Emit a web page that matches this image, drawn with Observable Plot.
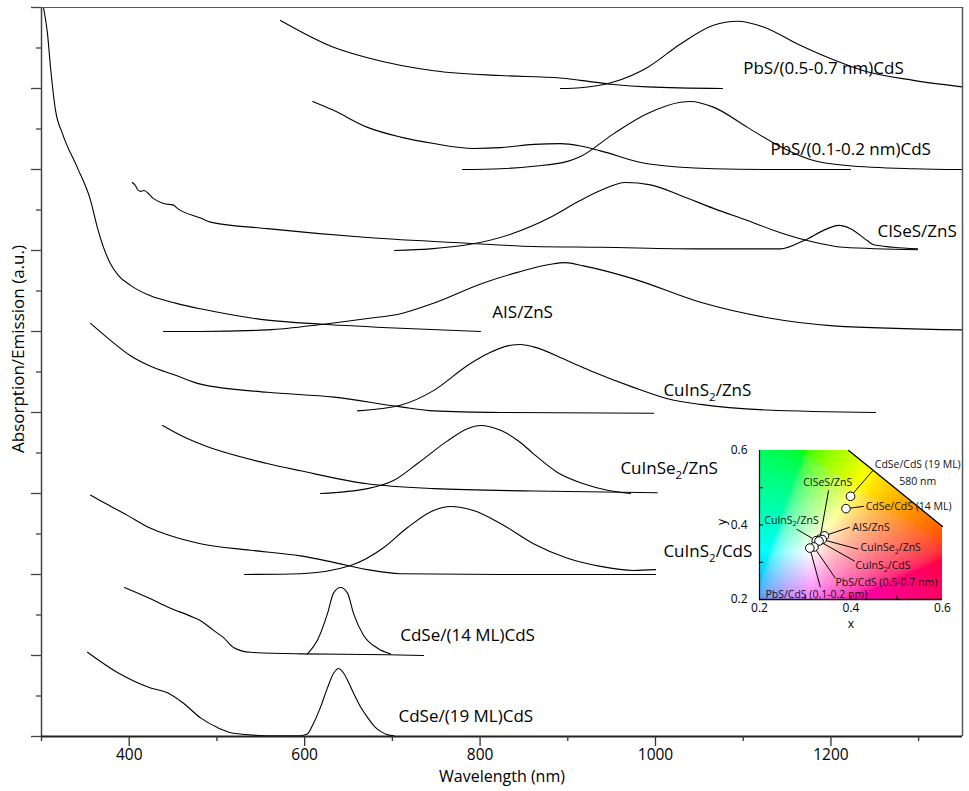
<!DOCTYPE html>
<html>
<head>
<meta charset="utf-8">
<script src="https://cdn.jsdelivr.net/npm/d3@7"></script>
<script src="https://cdn.jsdelivr.net/npm/@observablehq/plot@0.6"></script>
<style>
  body { margin: 0; background: #fff; }
  #wrap { position: relative; width: 969px; height: 791px; font-family: "Open Sans", sans-serif; }
  #inset { position: absolute; left: 700px; top: 430px; }
</style>
</head>
<body>
<div id="wrap"><div id="main"></div><div id="inset"></div></div>
<script>
// ---------- Spectra: [wavelength (nm), offset intensity (a.u.)] ----------
const abs19 = [[352.4,1.04],[386.6,0.79],[424.3,0.60],[443.7,0.54],[461.9,0.41],[481.3,0.23],[500.7,0.11],[518.9,0.04],[557.7,0.01],[595.3,0.01]];
const em19  = [[595.3,0.01],[603,0.03],[610,0.16],[618,0.36],[626,0.60],[633,0.78],[638.6,0.84],[644,0.79],[650,0.67],[656,0.53],[664,0.36],[672,0.23],[680,0.12],[687,0.06],[695,0.02],[702,0.01]];
const abs14 = [[394.6,1.84],[424.3,1.70],[443.7,1.60],[473.3,1.47],[481.3,1.43],[496.1,1.31],[507.5,1.22],[518.9,1.10],[538.3,1.04],[595.3,1.02],[694.5,1.01],[735.5,1.0]];
const em14  = [[603.3,1.02],[614.7,1.19],[626.1,1.52],[632.9,1.77],[640.9,1.84],[648.9,1.77],[655.7,1.52],[667.1,1.25],[683.1,1.09],[697.9,1.02]];
const absCISCdS = [[355.9,2.98],[367.3,2.91],[398,2.73],[424.3,2.57],[443.7,2.49],[481.3,2.38],[538.3,2.30],[595.3,2.23],[632.9,2.15],[671.7,2.06],[709.3,2.01],[823,2.0],[1000,2.0]];
const emCISCdS  = [[531.4,2.0],[595.3,2.01],[652.3,2.11],[689.9,2.33],[717.3,2.58],[746.9,2.79],[766.3,2.84],[792.5,2.79],[823.3,2.63],[860.9,2.38],[899.7,2.20],[937.3,2.10],[974.9,2.05],[1000,2.06]];
const absCISe = [[438,3.84],[458.5,3.72],[481.3,3.61],[557.3,3.37],[595.3,3.28],[671.3,3.12],[747.3,3.06],[861.3,3.03],[1002,3.01]];
const emCISe  = [[618.1,3.0],[671.7,3.06],[701.3,3.16],[728.7,3.37],[762.9,3.65],[785.7,3.80],[800.5,3.84],[823.3,3.78],[846.1,3.63],[860.9,3.49],[888.3,3.26],[917.9,3.12],[945.3,3.04],[971.5,3.0]];
const absCISZnS = [[355.9,5.10],[378.7,4.89],[401.5,4.70],[424.3,4.57],[452.8,4.46],[481.3,4.35],[557.3,4.25],[633.3,4.19],[709.3,4.07],[747.3,4.02],[823.3,4.0],[998,3.99]];
const emCISZnS  = [[660.3,4.02],[709.3,4.09],[746.9,4.27],[785.7,4.58],[803.9,4.70],[834.7,4.83],[846.1,4.84],[860.9,4.81],[899.7,4.64],[929.3,4.50],[974.9,4.31],[1013.7,4.17],[1051.3,4.10],[1127.7,4.03],[1250.8,4.0]];
const absAIS = [[302.3,9.0],[306.8,8.68],[310.3,8.26],[316,7.73],[324,7.44],[341,7.02],[355.9,6.62],[363.8,6.28],[371,6.03],[378,5.85],[387.8,5.69],[401.5,5.57],[424.3,5.44],[452.8,5.35],[481.3,5.28],[557.7,5.14],[621.5,5.09],[709.3,5.04],[800.5,5.0]];
const emAIS  = [[439.1,5.0],[481.3,5.0],[557.7,5.02],[621.5,5.09],[671.7,5.16],[709.3,5.22],[746.9,5.35],[803.9,5.60],[842.7,5.73],[880.3,5.83],[897.4,5.85],[917.9,5.81],[974.9,5.65],[1051.3,5.36],[1127.7,5.17],[1203,5.07],[1350,5.02]];
const absCISeS = [[403.4,6.84],[407.2,6.80],[409.1,6.76],[412.9,6.73],[416.6,6.74],[427.7,6.64],[439.1,6.58],[450.5,6.56],[455,6.52],[481.3,6.40],[492.7,6.35],[557.7,6.27],[671.7,6.16],[785.7,6.09],[861,6.05],[937.3,6.04],[1051,6.02],[1142.5,6.02],[1168.7,6.12],[1196.1,6.27],[1208.6,6.31],[1222.3,6.27],[1241.7,6.12],[1248.5,6.07],[1271.4,6.04],[1298.7,6.02]];
const emCISeS  = [[702.5,6.0],[743.5,6.02],[785.7,6.07],[834.7,6.20],[880.3,6.41],[914.5,6.62],[937.3,6.74],[965.8,6.84],[994.3,6.81],[1028.5,6.68],[1066.1,6.52],[1104.9,6.37],[1142.5,6.22],[1174.4,6.12],[1214.3,6.04],[1298.7,6.01]];
const absPbS1 = [[609.2,7.84],[632.9,7.73],[671.7,7.52],[709.3,7.40],[747.3,7.32],[792.9,7.26],[823.3,7.27],[861.3,7.31],[891.7,7.32],[914.5,7.29],[937.3,7.23],[990.9,7.07],[1066.1,7.01],[1142.5,7.0],[1222.3,7.0]];
const emPbS1  = [[780,7.0],[823.3,7.01],[861.3,7.04],[899.7,7.10],[914.5,7.16],[952.1,7.44],[990.9,7.69],[1028.5,7.83],[1039.9,7.84],[1066.1,7.77],[1104.9,7.52],[1142.5,7.28],[1180.1,7.11],[1218.5,7.05],[1294.2,7.01],[1350,7.0]];
const absPbS2 = [[572.5,8.84],[632.9,8.51],[671.7,8.38],[747.3,8.22],[823.3,8.16],[891.7,8.13],[914.5,8.10],[952.1,8.05],[990.9,8.02],[1076.4,8.0]];
const emPbS2  = [[891.7,8.0],[914.5,8.01],[952.1,8.08],[990.9,8.26],[1028.5,8.55],[1066.1,8.78],[1093.5,8.83],[1123.1,8.76],[1161.9,8.55],[1199.5,8.37],[1237.2,8.22],[1294.2,8.10],[1350,8.02]];

// ---------- Sample labels ----------
const sampleNames = ["CdSe/(19 ML)CdS","CdSe/(14 ML)CdS","CuInS₂/CdS","CuInSe₂/ZnS","CuInS₂/ZnS","AIS/ZnS","CISeS/ZnS","PbS/(0.1-0.2 nm)CdS","PbS/(0.5-0.7 nm)CdS"];
const labelWl  = [707, 709, 1009, 960, 1009, 814, 1253, 1131, 1100];
const labelVal = [0.25, 1.25, 2.28, 3.31, 4.27, 5.23, 6.23, 7.25, 8.25];

// ---------- Axis ticks ----------
const xMajor = [400, 600, 800, 1000, 1200];
const xMinor = [300, 500, 700, 900, 1100, 1300];
const yMajor = [0,1,2,3,4,5,6,7,8,9];
const yMinor = [0.5,1.5,2.5,3.5,4.5,5.5,6.5,7.5,8.5];

// ---------- CIE inset data ----------
const cieNames = ["CdSe/CdS (19 ML)","CdSe/CdS (14 ML)","AIS/ZnS","CISeS/ZnS","CuInS₂/ZnS","CuInSe₂/ZnS","CuInS₂/CdS","PbS/CdS (0.5-0.7 nm)","PbS/CdS (0.1-0.2 nm)"];
const cieX = [0.399,0.389,0.342,0.332,0.324,0.337,0.330,0.319,0.310];
const cieY = [0.477,0.444,0.371,0.362,0.358,0.361,0.357,0.341,0.338];
const locusX = [0.395, 0.6];
const locusY = [0.6, 0.396];
const cieTicks = [0.2, 0.4, 0.6];
const cieMinor = [0.3, 0.4, 0.5];
// label layout (leader end & text anchor, in chromaticity coordinates)
const leadX = [0.447,0.428,0.397,0.351,0.281,0.416,0.408,0.366,0.333];
const leadY = [0.545,0.450,0.394,0.493,0.389,0.335,0.303,0.257,0.233];
const textX = [0.452,0.432,0.403,0.349,0.270,0.421,0.410,0.366,0.213];
const textY = [0.561,0.450,0.394,0.515,0.413,0.338,0.290,0.244,0.214];
const textMiddle = [false,false,false,true,true,false,false,false,false];

// ---------- build tables ----------
const curves = [
  ["abs19", abs19], ["em19", em19], ["abs14", abs14], ["em14", em14],
  ["absCISCdS", absCISCdS], ["emCISCdS", emCISCdS], ["absCISe", absCISe], ["emCISe", emCISe],
  ["absCISZnS", absCISZnS], ["emCISZnS", emCISZnS], ["absAIS", absAIS], ["emAIS", emAIS],
  ["absCISeS", absCISeS], ["emCISeS", emCISeS], ["absPbS1", absPbS1], ["emPbS1", emPbS1],
  ["absPbS2", absPbS2], ["emPbS2", emPbS2]
];
const rows = curves.flatMap(([id, pts]) => pts.map(([wl, v]) => ({id, wl, v})));
const labels = sampleNames.map((name, i) => ({name, wl: labelWl[i], v: labelVal[i]}));

const FONT = "'Open Sans', sans-serif";

const main = Plot.plot({
  width: 969, height: 791,
  marginLeft: 41, marginRight: 7, marginTop: 7, marginBottom: 55,
  x: {domain: [300, 1350]},
  y: {domain: [0, 9]},
  style: {fontFamily: FONT, fontSize: "17px", color: "#000", background: "#fff"},
  marks: [
    Plot.line(rows, {x: "wl", y: "v", z: "id", curve: "monotone-x", stroke: "#000", strokeWidth: 1.1, clip: true}),
    Plot.text(labels, {x: "wl", y: "v", text: "name", textAnchor: "start", lineAnchor: "middle", fontSize: 17, fill: "#000"}),
    Plot.ruleY([9], {stroke: "#555", strokeWidth: 1.2}),
    Plot.ruleX([1350], {stroke: "#555", strokeWidth: 1.5}),
    Plot.ruleX([300], {stroke: "#444", strokeWidth: 1.5}),
    Plot.ruleY([0], {stroke: "#222", strokeWidth: 2}),
    Plot.axisX(xMajor, {tickSize: 10, tickPadding: 2, fontSize: 15.5, tickFormat: d => String(d), label: null, stroke: "#333", strokeWidth: 1.3}),
    Plot.axisX(xMinor, {tickSize: 5, tickFormat: () => "", label: null, stroke: "#333", strokeWidth: 1.3}),
    Plot.axisY(yMajor, {tickSize: 10, tickFormat: () => "", label: null, stroke: "#444", strokeWidth: 1.3}),
    Plot.axisY(yMinor, {tickSize: 5, tickFormat: () => "", label: null, stroke: "#444", strokeWidth: 1.3}),
    Plot.text(["Wavelength (nm)"], {text: d => d, frameAnchor: "bottom", dy: 45, fontSize: 16}),
    Plot.text(["Absorption/Emission (a.u.)"], {text: d => d, frameAnchor: "left", textAnchor: "middle", dx: -23, dy: -23, rotate: -90, fontSize: 17})
  ]
});
document.getElementById("main").appendChild(main);

// chromaticity background cells
function xyToRGB(x, y) {
  const X = x / y, Y = 1, Z = (1 - x - y) / y;
  let r = 3.2406 * X - 1.5372 * Y - 0.4986 * Z;
  let g = -0.9689 * X + 1.8758 * Y + 0.0415 * Z;
  let b = 0.0557 * X - 0.2040 * Y + 1.0570 * Z;
  r = Math.max(0, r); g = Math.max(0, g); b = Math.max(0, b);
  const m = Math.max(r, g, b);
  const gam = v => (v <= 0.0031308 ? 12.92 * v : 1.055 * Math.pow(v, 1 / 2.4) - 0.055);
  return `rgb(${Math.round(255 * gam(r / m))},${Math.round(255 * gam(g / m))},${Math.round(255 * gam(b / m))})`;
}
const step = 0.004;
const cells = [];
for (let i = 0; i < 100; i++) {
  for (let j = 0; j < 100; j++) {
    const x1 = 0.2 + i * step, y1 = 0.2 + j * step;
    if (x1 + y1 > 1.0) continue;
    cells.push({x1, x2: x1 + step, y1, y2: y1 + step, c: xyToRGB(x1 + step / 2, y1 + step / 2)});
  }
}
const locus = locusX.map((x, i) => ({x, y: locusY[i]}));
const pts = cieNames.map((name, i) => ({name, x: cieX[i], y: cieY[i], lx: leadX[i], ly: leadY[i], tx: textX[i], ty: textY[i], mid: textMiddle[i]}));

const inset = Plot.plot({
  width: 269, height: 210,
  marginLeft: 59, marginRight: 27, marginTop: 20, marginBottom: 41,
  x: {domain: [0.2, 0.6]},
  y: {domain: [0.2, 0.6]},
  color: {type: "identity"},
  style: {fontFamily: FONT, fontSize: "10.5px", color: "#000", background: "transparent", overflow: "visible"},
  marks: [
    Plot.rect(cells, {x1: "x1", x2: "x2", y1: "y1", y2: "y2", fill: "c", inset: -0.4, shapeRendering: "crispEdges"}),
    Plot.areaY(locus, {x: "x", y1: "y", y2: 0.6, fill: "#fff"}),
    Plot.line(locus, {x: "x", y: "y", stroke: "#000", strokeWidth: 1.3}),
    Plot.ruleX([0.2], {stroke: "#000", strokeWidth: 1.2}),
    Plot.ruleY([0.2], {stroke: "#000", strokeWidth: 1.5}),
    Plot.ruleX(cieMinor, {y1: 0.2, y2: 0.2, insetTop: -4, stroke: "#000"}),
    Plot.ruleY(cieMinor, {x1: 0.2, x2: 0.2, insetRight: -4, stroke: "#000"}),
    Plot.axisX(cieTicks, {tickSize: 0, tickPadding: 4, fontSize: 12, label: null}),
    Plot.axisY(cieTicks, {tickSize: 0, tickPadding: 12, fontSize: 12, label: null}),
    Plot.text(["x"], {text: d => d, frameAnchor: "bottom", dy: 28, fontSize: 12}),
    Plot.text(["y"], {text: d => d, frameAnchor: "left", dx: -37, rotate: -90, fontSize: 12}),
    Plot.link(pts, {x1: "x", y1: "y", x2: "lx", y2: "ly", stroke: "#000", strokeWidth: 1}),
    Plot.dot(pts, {x: "x", y: "y", r: 4.3, fill: "#fff", stroke: "#000", strokeWidth: 1}),
    Plot.text(pts.filter(d => !d.mid), {x: "tx", y: "ty", text: "name", textAnchor: "start", fontSize: 10.5, fill: "#111"}),
    Plot.text(pts.filter(d => d.mid), {x: "tx", y: "ty", text: "name", textAnchor: "middle", fontSize: 10.5, fill: "#111"}),
    Plot.text(["580 nm"], {text: d => d, x: () => 0.546, y: () => 0.517, fontSize: 10.5, fill: "#111"})
  ]
});
document.getElementById("inset").appendChild(inset);

// render "₂" as a real subscript
function subscripts(svg) {
  d3.select(svg).selectAll("text").each(function () {
    const t = this;
    if (t.querySelector("tspan")) return;
    const s = t.textContent;
    if (!s.includes("₂")) return;
    const fs = parseFloat(getComputedStyle(t).fontSize) || 12;
    const parts = s.split("₂");
    t.textContent = "";
    parts.forEach((p, i) => {
      if (i > 0) {
        const sub = document.createElementNS("http://www.w3.org/2000/svg", "tspan");
        sub.setAttribute("dy", (0.28 * fs).toFixed(2));
        sub.setAttribute("font-size", (0.68 * fs).toFixed(2));
        sub.textContent = "2";
        t.appendChild(sub);
      }
      const sp = document.createElementNS("http://www.w3.org/2000/svg", "tspan");
      if (i > 0) sp.setAttribute("dy", (-0.28 * fs).toFixed(2));
      sp.textContent = p;
      t.appendChild(sp);
    });
  });
}
subscripts(main);
subscripts(inset);
</script>
</body>
</html>
